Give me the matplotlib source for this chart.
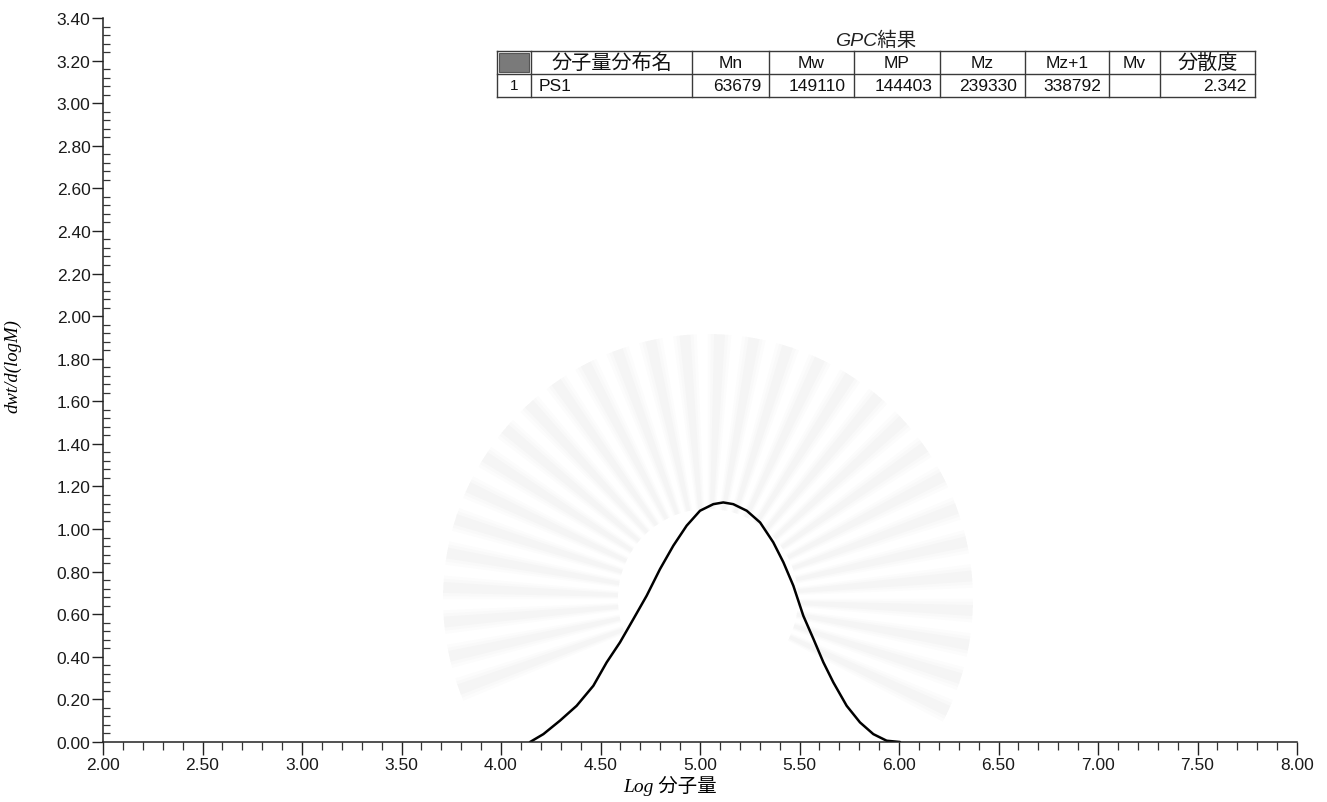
import numpy as np
import matplotlib
matplotlib.use("Agg")
import matplotlib.pyplot as plt
from matplotlib.patches import Rectangle, Wedge
from matplotlib.lines import Line2D
from matplotlib.ticker import MultipleLocator, FormatStrFormatter

# Molecular weight distribution (log M vs dwt/d(logM))
log_m = [4.146, 4.213, 4.296, 4.380, 4.464, 4.531, 4.598, 4.665, 4.732, 4.799,
         4.866, 4.933, 5.000, 5.067, 5.117, 5.167, 5.235, 5.302, 5.368, 5.419,
         5.469, 5.519, 5.570, 5.620, 5.670, 5.737, 5.804, 5.871, 5.938, 6.005]
dwt = [0.000, 0.037, 0.100, 0.170, 0.264, 0.374, 0.468, 0.577, 0.687, 0.812,
       0.922, 1.016, 1.086, 1.117, 1.125, 1.117, 1.086, 1.031, 0.938, 0.844,
       0.734, 0.593, 0.484, 0.374, 0.280, 0.170, 0.092, 0.037, 0.006, 0.000]

# GPC result table
table_title = "GPC結果"
header_labels = ["", "分子量分布名", "Mn", "Mw", "MP", "Mz", "Mz+1", "Mv", "分散度"]
row_values = ["1", "PS1", "63679", "149110", "144403", "239330", "338792", "", "2.342"]

W, H = 1327, 803
fig = plt.figure(figsize=(W / 100, H / 100), dpi=100)
fig.patch.set_facecolor("white")


def fpos(x, y):
    return x / W, 1 - y / H


# very faint, soft emblem watermark behind the plot
wm_x, wm_y = 708, H - 600
for ang in np.arange(-25, 206, 7.5):
    for half, alpha in ((2.6, 0.012), (1.9, 0.012), (1.2, 0.014)):
        fig.add_artist(Wedge((wm_x, wm_y), 265, ang - half, ang + half,
                             width=175, transform=None, facecolor="black",
                             alpha=alpha, edgecolor="none", zorder=0))

ax = fig.add_axes([103 / W, 60 / H, (1297 - 103) / W, (743 - 19) / H])
ax.patch.set_alpha(0)
ax.plot(log_m, dwt, color="black", lw=1.8, solid_capstyle="round",
        solid_joinstyle="round")
ax.set_xlim(2.0, 8.0)
ax.set_ylim(0.0, 3.4)

for side in ("top", "right"):
    ax.spines[side].set_visible(False)
for side in ("left", "bottom"):
    ax.spines[side].set_linewidth(1.1)
    ax.spines[side].set_color("#222222")

ax.xaxis.set_major_locator(MultipleLocator(0.5))
ax.xaxis.set_minor_locator(MultipleLocator(0.1))
ax.yaxis.set_major_locator(MultipleLocator(0.2))
ax.yaxis.set_minor_locator(MultipleLocator(0.04))
ax.xaxis.set_major_formatter(FormatStrFormatter("%.2f"))
ax.yaxis.set_major_formatter(FormatStrFormatter("%.2f"))

tick_font = "Liberation Sans"
ax.tick_params(axis="x", which="major", direction="out", length=9, width=1.0,
               color="#222222", labelsize=12.5, pad=2)
ax.tick_params(axis="x", which="minor", direction="out", length=6, width=0.9,
               color="#333333")
ax.tick_params(axis="y", which="major", direction="out", length=8, width=1.0,
               color="#222222", labelsize=12.5, pad=1)
ax.tick_params(axis="y", which="minor", direction="in", length=5, width=0.9,
               color="#333333")
for lab in ax.get_xticklabels() + ax.get_yticklabels():
    lab.set_fontfamily(tick_font)
    lab.set_color("#1a1a1a")

ax.set_ylabel("dwt/d(logM)", fontsize=13.5, fontstyle="italic",
              fontfamily="Liberation Serif", labelpad=2)
ax.yaxis.set_label_coords(-0.068, 0.52)
ax.set_xlabel("Log 分子量", fontsize=14, fontstyle="italic",
              fontfamily=["Liberation Serif", "Noto Sans CJK JP"], labelpad=0)
ax.xaxis.set_label_coords(0.475, -0.045)

# Table layout in pixel units
col_edges = [497, 531, 692, 769, 854, 940, 1025, 1109, 1160, 1255]
row_edges = [52, 75, 98]
line_kw = dict(color="#3a3a3a", lw=1.0, transform=fig.transFigure)

fig.text(*fpos(876, 41), table_title, fontsize=14, fontstyle="italic",
         fontfamily=["Liberation Sans", "Noto Sans CJK JP"],
         ha="center", va="center", color="#222222")

for y in row_edges:
    x0, y0 = fpos(col_edges[0], y)
    x1, _ = fpos(col_edges[-1], y)
    fig.add_artist(Line2D([x0, x1], [y0, y0], **line_kw))
for x in col_edges:
    x0, y0 = fpos(x, row_edges[0])
    _, y1 = fpos(x, row_edges[-1])
    fig.add_artist(Line2D([x0, x0], [y0, y1], **line_kw))

# grey corner icon
ix0, iy0 = fpos(col_edges[0] + 2, row_edges[1] - 2)
fig.add_artist(Rectangle((ix0, iy0), (col_edges[1] - col_edges[0] - 4) / W,
                         (row_edges[1] - row_edges[0] - 4) / H,
                         transform=fig.transFigure, facecolor="#7a7a7a",
                         edgecolor="#555555", lw=0.8))

cjk = ["Liberation Sans", "Noto Sans CJK JP"]
hy = (row_edges[0] + row_edges[1]) / 2
dy = (row_edges[1] + row_edges[2]) / 2
for i, lab in enumerate(header_labels):
    if not lab:
        continue
    l, r = col_edges[i], col_edges[i + 1]
    size = 14.5 if any(ord(c) > 255 for c in lab) else 12.5
    fig.text(*fpos((l + r) / 2, hy), lab, fontsize=size, fontfamily=cjk,
             ha="center", va="center", color="#111111")
for i, val in enumerate(row_values):
    if not val:
        continue
    l, r = col_edges[i], col_edges[i + 1]
    if i == 0:
        fig.text(*fpos((l + r) / 2, dy), val, fontsize=11, fontfamily=cjk,
                 ha="center", va="center", color="#111111")
    elif i == 1:
        fig.text(*fpos(l + 8, dy), val, fontsize=12.5, fontfamily=cjk,
                 ha="left", va="center", color="#111111")
    else:
        fig.text(*fpos(r - 8, dy), val, fontsize=12.5, fontfamily=cjk,
                 ha="right", va="center", color="#111111")

fig.savefig("out.png", dpi=100, facecolor="white")
